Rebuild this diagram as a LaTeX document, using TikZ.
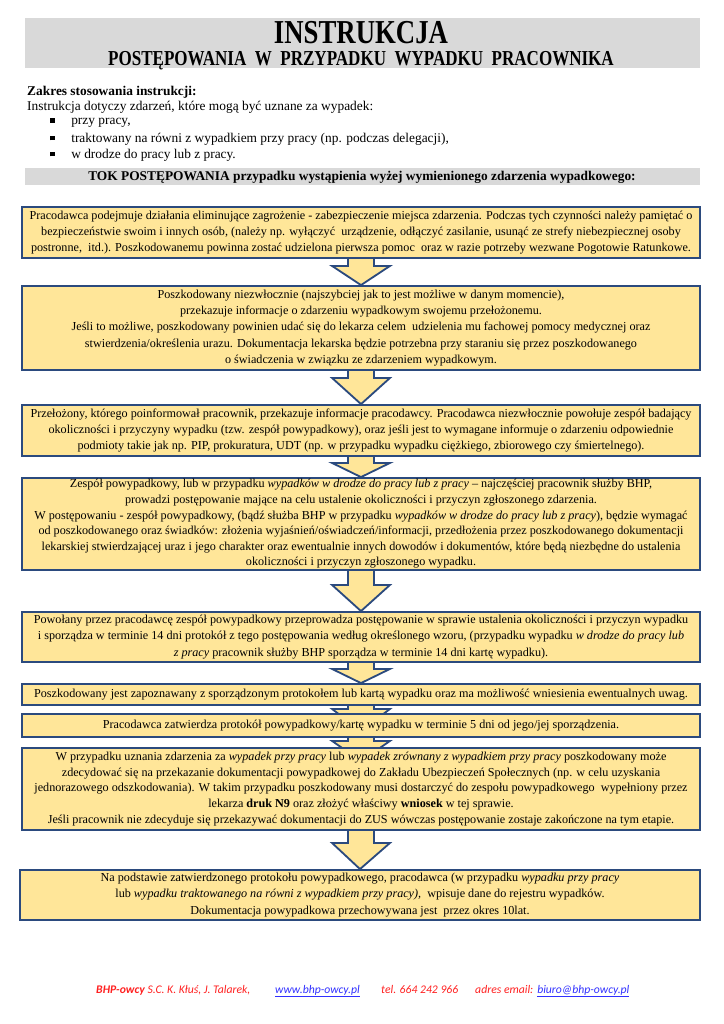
\documentclass[tikz,border=0pt]{standalone}
\usepackage{fontspec}
\setmainfont{Liberation Serif}
\newfontfamily\titlefont[FakeStretch=0.8]{Liberation Serif}
\newfontfamily\subfont[FakeStretch=0.8]{Liberation Serif}
\newfontfamily\calib{Carlito}
\usetikzlibrary{calc,fit,backgrounds}
\definecolor{boxfill}{HTML}{FFE699}
\definecolor{boxline}{HTML}{2B4A7E}
\definecolor{bandgray}{HTML}{D9D9D9}
\definecolor{footred}{HTML}{FF2020}
\definecolor{footblue}{HTML}{3030FF}
\tikzset{
  stepbox/.style={draw=boxline, line width=1.5pt, fill=boxfill, inner sep=0pt},
  steptext/.style={inner sep=0pt, align=center, font=\fontsize{10}{13.3}\selectfont},
  band/.style={fill=bandgray, draw=none, inner sep=0pt},
  blockarr/.style={draw=boxline, line width=1.5pt, fill=boxfill, line join=miter},
  plain/.style={inner sep=0pt, anchor=west, font=\fontsize{11}{12}\selectfont},
  foot/.style={inner sep=0pt, anchor=base west, font=\calib\itshape\fontsize{9.6}{11}\selectfont},
}
\newcommand\blockarrow[5]{%
  \path (#1.south) coordinate (as) (#2.north) coordinate (at);
  \draw[blockarr] ($(as)+(-13,-3)$) -- ($(as)+(-13,#3)$) -- ($(as)+(-29,#3)$)
     -- ($(at)+(0,#4)$) -- ($(as)+(29,#3)$) -- ($(as)+(13,#3)$) -- ($(as)+(13,-3)$);
}
\newcommand\bul{\raisebox{1.5pt}{\rule{3.8pt}{3.8pt}}}
\begin{document}
\begin{tikzpicture}[x=0.8219pt,y=-0.8219pt]
\useasboundingbox (0,0) rectangle (724,1024);
% header
\node[band, fit={(25,18)(700,68)}] (hdr) {};
\node[inner sep=0pt, anchor=base, font=\titlefont\bfseries\fontsize{27.5}{30}\selectfont] (title) at (361,44) {INSTRUKCJA};
\node[inner sep=0pt, anchor=base, font=\subfont\bfseries\fontsize{17.5}{18}\selectfont] (subtitle) at (361,66) {POSTĘPOWANIA\ \ W\ \ PRZYPADKU\ \ WYPADKU\ \ PRACOWNIKA};
% intro
\node[plain, font=\bfseries\fontsize{11}{12}\selectfont] (zak) at (27,92) {Zakres stosowania instrukcji:};
\node[plain] (ins) at (27,107) {Instrukcja dotyczy zdarzeń, które mogą być uznane za wypadek:};
\node[plain] (l1) at (50,123) {\bul\hspace{13.5pt}przy pracy,};
\node[plain] (l2) at (50,139) {\bul\hspace{13.5pt}traktowany na równi z wypadkiem przy pracy (np. podczas delegacji),};
\node[plain] (l3) at (50,155) {\bul\hspace{13.5pt}w drodze do pracy lub z pracy.};
\node[band, fit={(25,168)(700,185)}] (band2) {};
\node[inner sep=0pt, font=\bfseries\fontsize{11}{12}\selectfont] (tok) at (362,177) {TOK POSTĘPOWANIA przypadku wystąpienia wyżej wymienionego zdarzenia wypadkowego:};
% boxes
\node[stepbox, fit={(22,207)(700,258)}] (b1) {};
\node[stepbox, fit={(22,286)(700,370)}] (b2) {};
\node[stepbox, fit={(22,405)(700,456)}] (b3) {};
\node[stepbox, fit={(22,478)(700,570)}] (b4) {};
\node[stepbox, fit={(22,612)(700,662)}] (b5) {};
\node[stepbox, fit={(22,684)(700,705)}] (b6) {};
\node[stepbox, fit={(22,714)(700,737)}] (b7) {};
\node[stepbox, fit={(22,748)(700,830)}] (b8) {};
\node[stepbox, fit={(20,870)(700,920)}] (b9) {};
% box texts
\node[steptext] (t1) at (b1.center) {Pracodawca podejmuje działania eliminujące zagrożenie - zabezpieczenie miejsca zdarzenia. Podczas tych czynności należy pamiętać o\\ bezpieczeństwie swoim i innych osób, (należy np. wyłączyć\ \ urządzenie, odłączyć zasilanie, usunąć ze strefy niebezpiecznej osoby\\ postronne,\ \ itd.). Poszkodowanemu powinna zostać udzielona pierwsza pomoc\ \ oraz w razie potrzeby wezwane Pogotowie Ratunkowe.};
\node[steptext] (t2) at (b2.center) {Poszkodowany niezwłocznie (najszybciej jak to jest możliwe w danym momencie),\\ przekazuje informacje o zdarzeniu wypadkowym swojemu przełożonemu.\\ Jeśli to możliwe, poszkodowany powinien udać się do lekarza celem\ \ udzielenia mu fachowej pomocy medycznej oraz\\ stwierdzenia/określenia urazu. Dokumentacja lekarska będzie potrzebna przy staraniu się przez poszkodowanego\\ o świadczenia w związku ze zdarzeniem wypadkowym.};
\node[steptext] (t3) at (b3.center) {Przełożony, którego poinformował pracownik, przekazuje informacje pracodawcy. Pracodawca niezwłocznie powołuje zespół badający\\ okoliczności i przyczyny wypadku (tzw. zespół powypadkowy), oraz jeśli jest to wymagane informuje o zdarzeniu odpowiednie\\ podmioty takie jak np. PIP, prokuratura, UDT (np. w przypadku wypadku ciężkiego, zbiorowego czy śmiertelnego).};
\node[steptext, font=\fontsize{10}{12.8}\selectfont] (t4) at (b4.center) {Zespół powypadkowy, lub w przypadku \textit{wypadków w drodze do pracy lub z pracy} – najczęściej pracownik służby BHP,\\ prowadzi postępowanie mające na celu ustalenie okoliczności i przyczyn zgłoszonego zdarzenia.\\ W postępowaniu - zespół powypadkowy, (bądź służba BHP w przypadku \textit{wypadków w drodze do pracy lub z pracy}), będzie wymagać\\ od poszkodowanego oraz świadków: złożenia wyjaśnień/oświadczeń/informacji, przedłożenia przez poszkodowanego dokumentacji\\ lekarskiej stwierdzającej uraz i jego charakter oraz ewentualnie innych dowodów i dokumentów, które będą niezbędne do ustalenia\\ okoliczności i przyczyn zgłoszonego wypadku.};
\node[steptext] (t5) at (b5.center) {Powołany przez pracodawcę zespół powypadkowy przeprowadza postępowanie w sprawie ustalenia okoliczności i przyczyn wypadku\\ i sporządza w terminie 14 dni protokół z tego postępowania według określonego wzoru, (przypadku wypadku \textit{w drodze do pracy lub}\\ \textit{z pracy} pracownik służby BHP sporządza w terminie 14 dni kartę wypadku).};
\node[steptext] (t6) at (b6.center) {Poszkodowany jest zapoznawany z sporządzonym protokołem lub kartą wypadku oraz ma możliwość wniesienia ewentualnych uwag.};
\node[steptext] (t7) at (b7.center) {Pracodawca zatwierdza protokół powypadkowy/kartę wypadku w terminie 5 dni od jego/jej sporządzenia.};
\node[steptext, font=\fontsize{10}{12.8}\selectfont] (t8) at (b8.center) {W przypadku uznania zdarzenia za \textit{wypadek przy pracy} lub \textit{wypadek zrównany z wypadkiem przy pracy} poszkodowany może\\ zdecydować się na przekazanie dokumentacji powypadkowej do Zakładu Ubezpieczeń Społecznych (np. w celu uzyskania\\ jednorazowego odszkodowania). W takim przypadku poszkodowany musi dostarczyć do zespołu powypadkowego\ \ wypełniony przez\\ lekarza \textbf{druk N9} oraz złożyć właściwy \textbf{wniosek} w tej sprawie.\\ Jeśli pracownik nie zdecyduje się przekazywać dokumentacji do ZUS wówczas postępowanie zostaje zakończone na tym etapie.};
\node[steptext] (t9) at (b9.center) {Na podstawie zatwierdzonego protokołu powypadkowego, pracodawca (w przypadku \textit{wypadku przy pracy}\\ lub \textit{wypadku traktowanego na równi z wypadkiem przy pracy),}\ \ wpisuje dane do rejestru wypadków.\\ Dokumentacja powypadkowa przechowywana jest\ \ przez okres 10lat.};
% arrows
\begin{pgfonlayer}{background}
\blockarrow{b1}{b2}{7}{0}{}
\blockarrow{b2}{b3}{7}{0}{}
\blockarrow{b3}{b4}{6}{0}{}
\blockarrow{b4}{b5}{14}{0}{}
\blockarrow{b5}{b6}{6}{0}{}
\blockarrow{b6}{b7}{3}{18}{}
\blockarrow{b7}{b8}{3}{14}{}
\blockarrow{b8}{b9}{12}{0}{}
\end{pgfonlayer}
% footer
\node[foot, text=footred] (f1) at (96,993) {\textbf{BHP-owcy} S.C. K. Kłuś, J. Talarek,};
\node[foot, text=footblue] (f2) at (275,993) {\underline{www.bhp-owcy.pl}};
\node[foot, text=footred] (f3) at (381,993) {tel. 664 242 966};
\node[foot, text=footred] (f4) at (475,993) {adres email:};
\node[foot, text=footblue] (f5) at (537,993) {\underline{biuro@bhp-owcy.pl}};
\end{tikzpicture}
\end{document}
